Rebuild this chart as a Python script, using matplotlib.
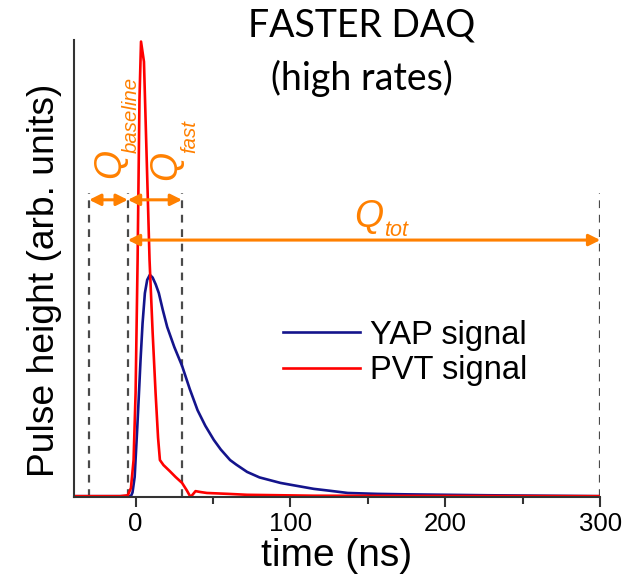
import numpy as np
import matplotlib
matplotlib.use('Agg')
import matplotlib.pyplot as plt
from matplotlib.ticker import MultipleLocator

plt.rcParams['font.family'] = ['Liberation Sans', 'DejaVu Sans']

# PVT (plastic) pulse
pvt_t = [-40, -10, -5, -3, -1.3, 0, 1.3, 2.5, 3.5, 5.4, 7, 9, 11, 12.9, 14.5, 15.7,
         18, 22, 25.8, 30, 33, 35.5, 38.7, 42, 46, 60, 72, 115, 300]
pvt_h = [0.002, 0.002, 0.004, 0.020, 0.081, 0.228, 0.519, 0.869, 0.996, 0.952,
         0.760, 0.519, 0.360, 0.228, 0.130, 0.081, 0.070, 0.057, 0.044, 0.031,
         0.015, 0.0, 0.013, 0.011, 0.009, 0.007, 0.005, 0.003, 0.002]

# YAP pulse
yap_t = [-40, -3, -2, -0.6, 1.1, 2, 3.2, 4.5, 6, 7.5, 9.2, 11, 13, 15, 17.5,
         20.4, 25, 30, 35, 40, 45, 50.5, 55, 61, 65, 72, 80, 93.5, 100, 115,
         125, 137, 156, 175, 227, 300]
yap_h = [0.002, 0.002, 0.010, 0.044, 0.153, 0.215, 0.300, 0.380, 0.446, 0.475,
         0.486, 0.480, 0.465, 0.446, 0.410, 0.372, 0.328, 0.287, 0.236, 0.190,
         0.156, 0.125, 0.104, 0.081, 0.071, 0.055, 0.043, 0.031, 0.027, 0.018,
         0.014, 0.009, 0.007, 0.006, 0.004, 0.002]

# integration window limits (ns)
gate_x = [-30, -5, 30, 300]
gate_top = 0.665
arrow_y_short = 0.650
arrow_y_tot = 0.562

orange = '#FF8000'

fig = plt.figure(figsize=(6.24, 5.76), dpi=100)
ax = fig.add_axes([0.118, 0.137, 0.844, 0.794])

ax.vlines(gate_x, 0, gate_top, colors='#4a4a4a', linestyles=(0, (3.5, 3)), lw=1.6)

ax.plot(yap_t, yap_h, color='#14148C', lw=1.9, label='YAP signal')
ax.plot(pvt_t, pvt_h, color='#FF0000', lw=1.9, label='PVT signal')

arr = dict(arrowstyle='<|-|>', color=orange, lw=2.2, mutation_scale=17,
           shrinkA=0, shrinkB=0)
ax.annotate('', xy=(gate_x[0], arrow_y_short), xytext=(gate_x[1], arrow_y_short), arrowprops=arr)
ax.annotate('', xy=(gate_x[1], arrow_y_short), xytext=(gate_x[2], arrow_y_short), arrowprops=arr)
ax.annotate('', xy=(gate_x[1], arrow_y_tot), xytext=(gate_x[3], arrow_y_tot), arrowprops=arr)

# charge labels: big italic Q with a smaller subscript
qkw = dict(color=orange, style='italic', ha='left', va='baseline', rotation_mode='anchor')
ax.text(-9.7, 0.698, 'Q', fontsize=27, rotation=90, **qkw)
ax.text(0.65, 0.753, 'baseline', fontsize=14.7, rotation=90, **qkw)
ax.text(26.5, 0.694, 'Q', fontsize=27, rotation=90, **qkw)
ax.text(38.7, 0.753, 'fast', fontsize=14.7, rotation=90, **qkw)
ax.text(141, 0.591, 'Q', fontsize=27, **qkw)
ax.text(160.3, 0.571, 'tot', fontsize=15.5, **qkw)

ax.set_xlim(-40, 300)
ax.set_ylim(0, 1)
ax.spines['top'].set_visible(False)
ax.spines['right'].set_visible(False)
for s in ('left', 'bottom'):
    ax.spines[s].set_color('#333333')
    ax.spines[s].set_linewidth(1.5)
ax.set_yticks([])
ax.xaxis.set_major_locator(MultipleLocator(100))
ax.xaxis.set_minor_locator(MultipleLocator(50))
ax.tick_params(axis='x', which='major', length=7, width=1.5, labelsize=18.5, pad=4, color='#333333')
ax.tick_params(axis='x', which='minor', length=5, width=1.5, color='#333333')
ax.set_xlabel('time (ns)', fontsize=28, labelpad=1)
ax.set_ylabel('Pulse height (arb. units)', fontsize=26.8)
ax.yaxis.set_label_coords(-0.022, 0.473)

ax.legend(loc='center left', bbox_to_anchor=(0.398, 0.315), frameon=False,
          fontsize=23.5, handlelength=2.35, handletextpad=0.3,
          labelspacing=0.15, borderpad=0, borderaxespad=0)

tkw = dict(fontsize=27, family=['Lato', 'DejaVu Sans'], ha='center', va='baseline')
fig.text(0.58, 0.936, 'FASTER DAQ', **tkw)
fig.text(0.58, 0.844, '(high rates)', **tkw)

fig.savefig('out.png', dpi=100)
